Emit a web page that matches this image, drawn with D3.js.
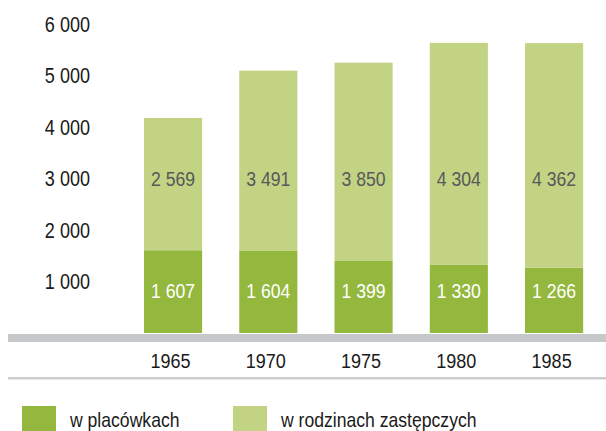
<!DOCTYPE html>
<html>
<head>
<meta charset="utf-8">
<script src="https://cdn.jsdelivr.net/npm/d3@7"></script>
<style>
  html, body { margin: 0; padding: 0; background: #fff; }
  svg { display: block; font-family: "Liberation Sans", Arial, sans-serif; }
</style>
</head>
<body>
<div id="chart"></div>
<script>
// data
const years = ['1965', '1970', '1975', '1980', '1985'];
const wPlacowkach = [1607, 1604, 1399, 1330, 1266];
const wRodzinach = [2569, 3491, 3850, 4304, 4362];
const yTicks = [1000, 2000, 3000, 4000, 5000, 6000];
const seriesNames = ['w placówkach', 'w rodzinach zastępczych'];

const width = 606, height = 431;
const darkGreen = '#94b73e';
const lightGreen = '#c2d383';

const svg = d3.select('#chart')
  .append('svg')
  .attr('width', width)
  .attr('height', height);

const x = d3.scaleBand()
  .domain(years)
  .range([106.85, 620.3])
  .paddingInner(0.39)
  .paddingOuter(0.39);

const y = d3.scaleLinear()
  .domain([0, 6000])
  .range([333, 24]);

// stacked bars
const rows = years.map((yr, i) => ({ year: yr, a: wPlacowkach[i], b: wRodzinach[i] }));
const stack = d3.stack().keys(['a', 'b'])(rows);
const colors = [darkGreen, lightGreen];

svg.append('g')
  .selectAll('g')
  .data(stack)
  .enter().append('g')
  .attr('fill', (d, i) => colors[i])
  .selectAll('rect')
  .data(d => d)
  .enter().append('rect')
  .attr('x', d => x(d.data.year))
  .attr('y', d => y(d[1]))
  .attr('width', x.bandwidth())
  .attr('height', d => y(d[0]) - y(d[1]));

// value labels (fixed rows inside the segments), squeezed to look condensed
const fmt = v => d3.format(',')(v).replace(/,/g, ' ');

svg.append('g')
  .selectAll('g')
  .data(rows)
  .enter().append('g')
  .attr('transform', d => `translate(${x(d.year) + x.bandwidth() / 2},${y(3000)}) scale(0.86,1)`)
  .append('text')
  .attr('dy', '0.36em')
  .attr('text-anchor', 'middle')
  .style('font-size', '20.5px')
  .style('fill', '#58595b')
  .text(d => fmt(d.b));

svg.append('g')
  .selectAll('g')
  .data(rows)
  .enter().append('g')
  .attr('transform', d => `translate(${x(d.year) + x.bandwidth() / 2},${y(830)}) scale(0.86,1)`)
  .append('text')
  .attr('dy', '0.36em')
  .attr('text-anchor', 'middle')
  .style('font-size', '20.5px')
  .style('fill', '#fff')
  .text(d => fmt(d.a));

// y tick labels
svg.append('g')
  .selectAll('g')
  .data(yTicks)
  .enter().append('g')
  .attr('transform', d => `translate(90,${y(d)}) scale(0.82,1)`)
  .append('text')
  .attr('dy', '0.36em')
  .attr('text-anchor', 'end')
  .style('font-size', '22px')
  .style('fill', '#1a1a1a')
  .text(d => fmt(d));

// base band and lower rule
svg.append('rect')
  .attr('x', 8).attr('y', 334)
  .attr('width', width - 8).attr('height', 8)
  .attr('fill', '#c6c7c8');

svg.append('rect')
  .attr('x', 8).attr('y', 377)
  .attr('width', width - 8).attr('height', 2.5)
  .attr('fill', '#cdcdcd');

// year labels
svg.append('g')
  .selectAll('g')
  .data(years)
  .enter().append('g')
  .attr('transform', d => `translate(${x(d) + x.bandwidth() / 2 - 2.5},368) scale(0.86,1)`)
  .append('text')
  .attr('text-anchor', 'middle')
  .style('font-size', '21px')
  .style('fill', '#1a1a1a')
  .text(d => d);

// legend
const legendX = [22, 233];
const legend = svg.append('g')
  .selectAll('g')
  .data(seriesNames)
  .enter().append('g')
  .attr('transform', (d, i) => `translate(${legendX[i]},406)`);

legend.append('rect')
  .attr('width', 34)
  .attr('height', 30)
  .attr('fill', (d, i) => colors[i]);

legend.append('g')
  .attr('transform', 'translate(48,21) scale(0.88,1)')
  .append('text')
  .style('font-size', '20px')
  .style('fill', '#1a1a1a')
  .text(d => d);
</script>
</body>
</html>
